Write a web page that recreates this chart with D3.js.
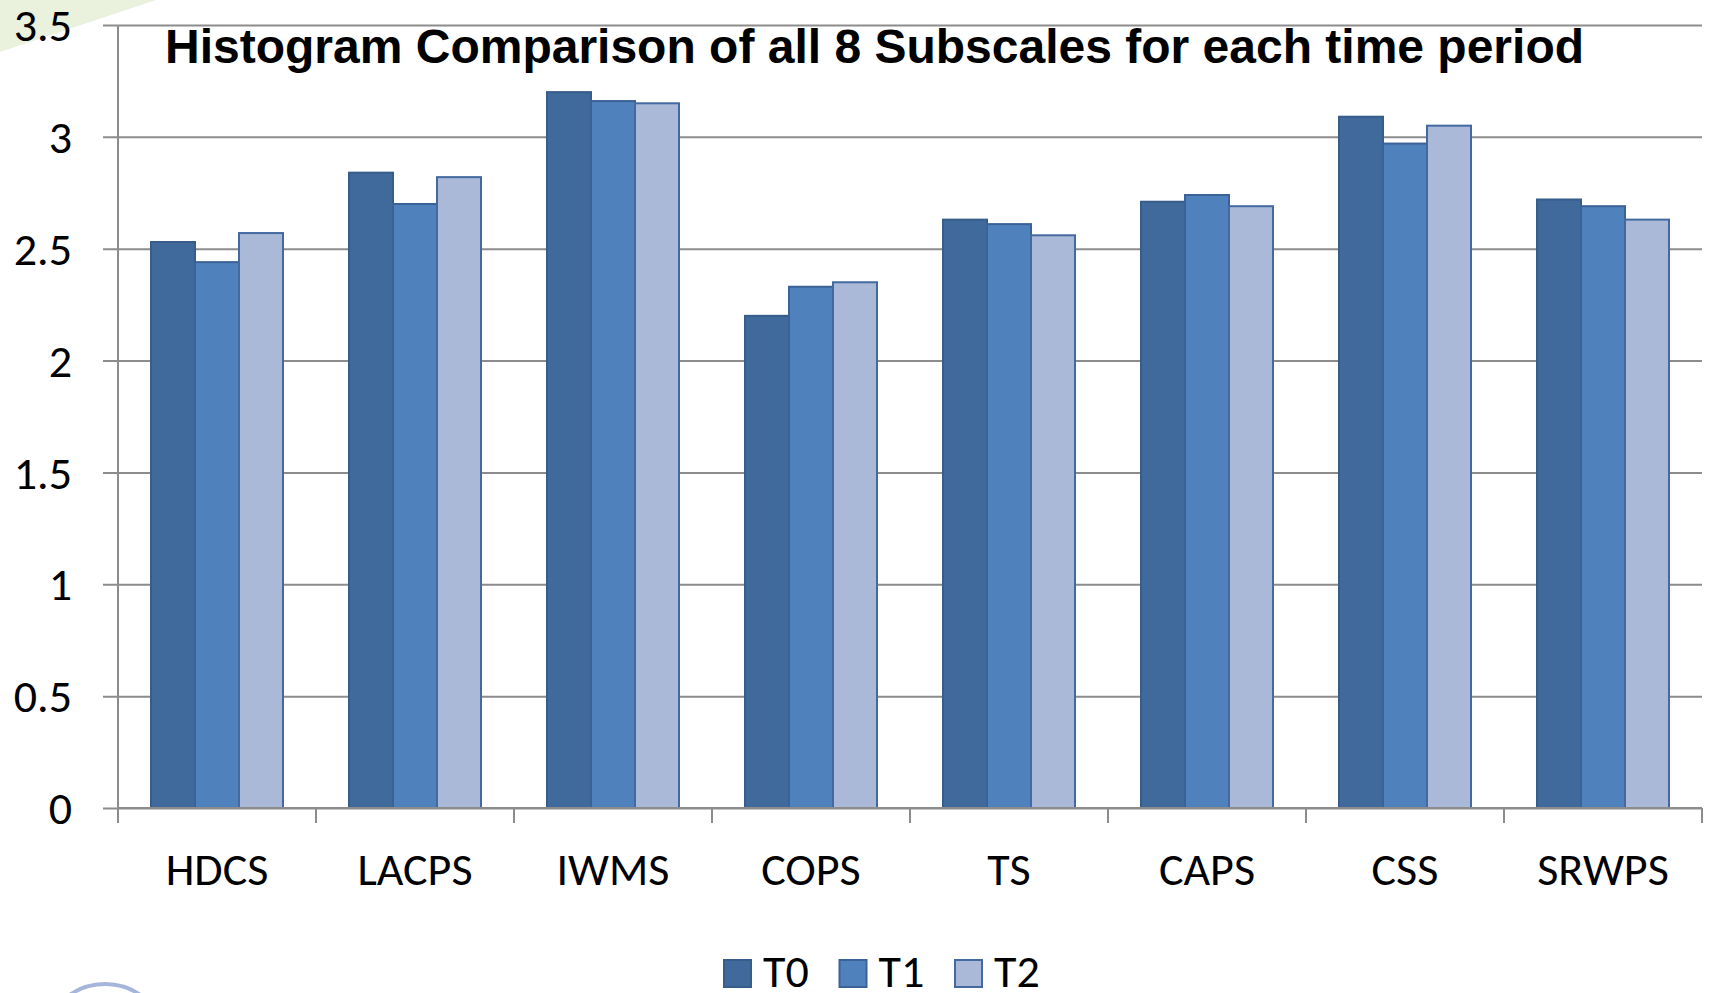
<!DOCTYPE html>
<html>
<head>
<meta charset="utf-8">
<script src="https://d3js.org/d3.v7.min.js"></script>
<style>
  body { margin: 0; background: #fff; }
  svg { display: block; }
</style>
</head>
<body>
<div id="chart"></div>
<script>
let categories = ["HDCS", "LACPS", "IWMS", "COPS", "TS", "CAPS", "CSS", "SRWPS"];
let seriesNames = ["T0", "T1", "T2"];
let t0 = [2.53, 2.84, 3.20, 2.20, 2.63, 2.71, 3.09, 2.72];
let t1 = [2.44, 2.70, 3.16, 2.33, 2.61, 2.74, 2.97, 2.69];
let t2 = [2.57, 2.82, 3.15, 2.35, 2.56, 2.69, 3.05, 2.63];
let yTicks = [0, 0.5, 1, 1.5, 2, 2.5, 3, 3.5];
let title = "Histogram Comparison of all 8 Subscales for each time period";

let seriesValues = [t0, t1, t2];
let colors = ["#3f6a9b", "#4f81bd", "#aab9d7"];
let strokes = ["#375d8b", "#3a6296", "#4369a0"];

let svgWidth = 1712, svgHeight = 993;
let margin = {top: 25, right: 10, bottom: 185, left: 118};
let labelFont = "Calibri, Carlito, Lato, sans-serif";
let labelSize = "46px";

let svg = d3.select("#chart").append("svg")
    .attr("width", svgWidth)
    .attr("height", svgHeight);

// slide decoration: green corner and circle
svg.append("polygon")
    .attr("points", "0,0 156,0 0,52")
    .attr("fill", "#eaf1dd");
svg.append("circle")
    .attr("cx", 105).attr("cy", 1046).attr("r", 62)
    .attr("fill", "none")
    .attr("stroke", "#a6b5dc")
    .attr("stroke-width", 4);

let x0 = d3.scaleBand()
    .domain(categories)
    .range([margin.left, svgWidth - margin.right]);
// gap width 150% -> groups take 3 / 4.5 of each band
let x1 = d3.scaleBand()
    .domain(seriesNames)
    .range([x0.bandwidth() * 0.75 / 4.5, x0.bandwidth() * 3.75 / 4.5]);
let y = d3.scaleLinear()
    .domain([0, 3.5])
    .range([svgHeight - margin.bottom, margin.top]);

// gridlines with left tick marks
let yAxis = svg.append("g")
    .attr("transform", "translate(" + margin.left + ",0)")
    .call(d3.axisLeft(y).tickValues(yTicks).tickSize(-(svgWidth - margin.left - margin.right)).tickPadding(46).tickFormat(d3.format("")));
yAxis.select(".domain").remove();
yAxis.selectAll(".tick line")
    .attr("x1", -15)
    .attr("stroke", "#8c8c8c")
    .attr("stroke-width", 2);
yAxis.selectAll(".tick text")
    .attr("font-family", labelFont)
    .attr("font-size", labelSize)
    .attr("fill", "#000")
    .attr("dy", "0.34em");

// vertical axis line
svg.append("line")
    .attr("x1", margin.left).attr("x2", margin.left)
    .attr("y1", y(3.5)).attr("y2", y(0) + 15)
    .attr("stroke", "#8c8c8c")
    .attr("stroke-width", 2);

// bars
let groups = svg.selectAll(".grp")
    .data(categories)
    .enter()
    .append("g")
    .attr("class", "grp")
    .attr("transform", d => "translate(" + x0(d) + ",0)");

groups.selectAll("rect")
    .data((d, i) => seriesNames.map((s, j) => ({s: s, j: j, v: seriesValues[j][i]})))
    .enter()
    .append("rect")
    .attr("x", d => x1(d.s))
    .attr("y", d => y(d.v))
    .attr("width", x1.bandwidth())
    .attr("height", d => y(0) - y(d.v))
    .attr("fill", d => colors[d.j])
    .attr("stroke", d => strokes[d.j])
    .attr("stroke-width", 2);

// category axis
let xAxis = svg.append("g")
    .attr("transform", "translate(0," + y(0) + ")");
xAxis.append("line")
    .attr("x1", margin.left).attr("x2", svgWidth - margin.right)
    .attr("stroke", "#8c8c8c")
    .attr("stroke-width", 2);
xAxis.selectAll(".sep")
    .data(categories)
    .enter()
    .append("line")
    .attr("x1", d => x0(d) + x0.bandwidth())
    .attr("x2", d => x0(d) + x0.bandwidth())
    .attr("y1", 0).attr("y2", 15)
    .attr("stroke", "#8c8c8c")
    .attr("stroke-width", 2);
xAxis.selectAll(".lbl")
    .data(categories)
    .enter()
    .append("text")
    .text(d => d)
    .attr("x", d => x0(d) + x0.bandwidth() / 2)
    .attr("y", 77)
    .attr("text-anchor", "middle")
    .attr("font-family", labelFont)
    .attr("font-size", labelSize)
    .attr("fill", "#000");

// title
svg.append("text")
    .text(title)
    .attr("x", 165)
    .attr("y", 63)
    .attr("font-family", "'Liberation Sans', Arial, sans-serif")
    .attr("font-weight", "bold")
    .attr("font-size", "48px")
    .attr("fill", "#000");

// legend
let legend = svg.selectAll(".leg")
    .data(seriesNames)
    .enter()
    .append("g")
    .attr("transform", (d, i) => "translate(" + (724 + i * 115.5) + ",960)");
legend.append("rect")
    .attr("width", 27).attr("height", 27)
    .attr("fill", (d, i) => colors[i])
    .attr("stroke", (d, i) => strokes[i])
    .attr("stroke-width", 2);
legend.append("text")
    .text(d => d)
    .attr("x", 39)
    .attr("y", 27)
    .attr("font-family", labelFont)
    .attr("font-size", labelSize)
    .attr("fill", "#000");
</script>
</body>
</html>
